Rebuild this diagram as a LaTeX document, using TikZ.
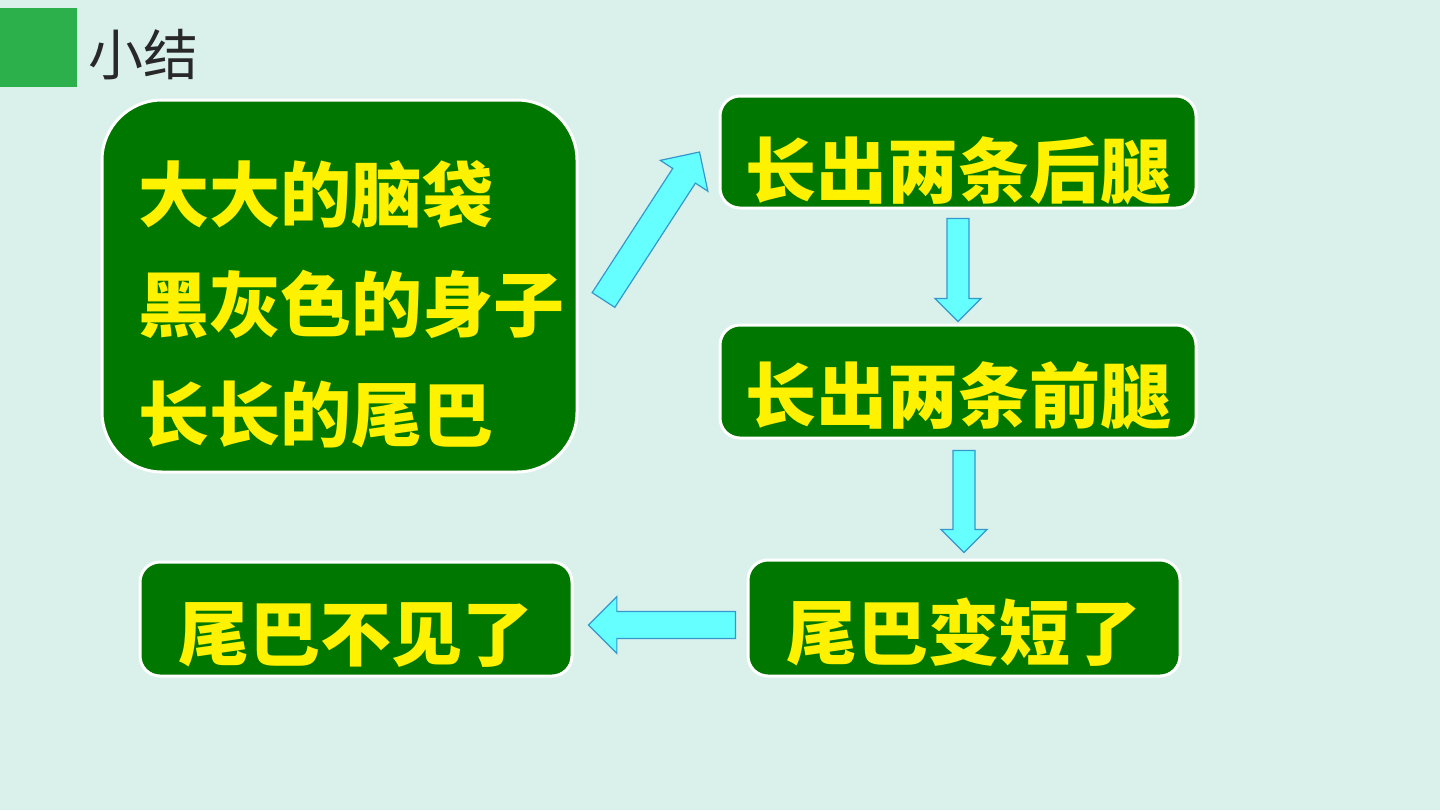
\documentclass[tikz,border=0pt]{standalone}
\usepackage{fontspec}
\newfontfamily\cjk{Noto Sans CJK SC}
\usetikzlibrary{calc}
\definecolor{Mint}{RGB}{217,240,235}
\definecolor{Leaf}{RGB}{0,120,0}
\definecolor{Tag}{RGB}{44,176,76}
\definecolor{Aqua}{RGB}{102,255,255}
\definecolor{Edge}{RGB}{51,153,204}
\definecolor{Ink}{RGB}{40,40,40}
% block arrow from #2 to the tip #3, half shaft width #1
\newcommand\blkarrow[3][6.75pt]{%
 \coordinate (hb) at ($(#3)!2.1*#1!(#2)$);
 \draw[blk] ($(#2)!#1!90:(#3)$)--($(hb)!#1!90:(#3)$)--($(hb)!2.1*#1!90:(#3)$)--(#3)
  --($(hb)!2.1*#1!-90:(#3)$)--($(hb)!#1!-90:(#3)$)--($(#2)!#1!-90:(#3)$)--cycle;}

\begin{document}
\begin{tikzpicture}[x=0.5pt,y=-0.5pt,
 pane/.style={rounded corners=10pt,draw=white,line width=1.5pt,fill=Leaf,text=yellow,inner sep=0pt,
  font=\cjk\bfseries\fontsize{35.5}{40}\selectfont,text height=45pt,text depth=4pt},
 txt/.style={text=yellow,inner sep=0pt,align=left,font=\cjk\bfseries\fontsize{35.5}{55}\selectfont},
 blk/.style={fill=Aqua,draw=Edge,line width=.6pt,line join=miter}]
\fill[Mint] (0,0) rectangle (1440,810);
\useasboundingbox (0,0) rectangle (1440,810);
\node[fill=Tag,minimum width=38.5pt,minimum height=39.5pt,inner sep=0pt,anchor=north west] (tag) at (0,8) {};
\node[text=Ink,inner sep=0pt,anchor=base west,font=\cjk\fontsize{27.5}{30}\selectfont] (title) at (88,75) {小结};
\node[pane,rounded corners=30pt,minimum width=237.5pt,minimum height=186pt] (feat) at (339.5,286) {};
\node[txt,anchor=west] (featText) at (138,304) {大大的脑袋\\黑灰色的身子\\长长的尾巴};
\node[pane,minimum width=238pt,minimum height=56pt,text height=49pt] (hind) at (958,152) {长出两条后腿};
\node[pane,minimum width=238pt,minimum height=56.5pt] (fore) at (958,381.5) {长出两条前腿};
\node[pane,minimum width=216pt,minimum height=58pt] (short) at (964,618) {尾巴变短了};
\node[pane,minimum width=216pt,minimum height=57pt] (gone) at (356,619) {尾巴不见了};
\coordinate (t0) at ($(feat.east)+(25,14)$);
\coordinate (d0) at ([xshift=-9.5pt]hind.west);
\coordinate (t1) at ([yshift=-4.5pt]hind.south);
\coordinate (d1) at ([yshift=1pt]fore.north);
\coordinate (t2) at ($(fore.south -| short.north)+(0,11)$);
\coordinate (d2) at ([yshift=3pt]short.north);
\coordinate (t3) at ($(short.west)+(-11,7)$);
\coordinate (d3) at ($(gone.east |- t3)+(15,0)$);
\blkarrow{t0}{d0}
\blkarrow[5.5pt]{t1}{d1}
\blkarrow[5.5pt]{t2}{d2}
\blkarrow{t3}{d3}
\end{tikzpicture}
\end{document}
